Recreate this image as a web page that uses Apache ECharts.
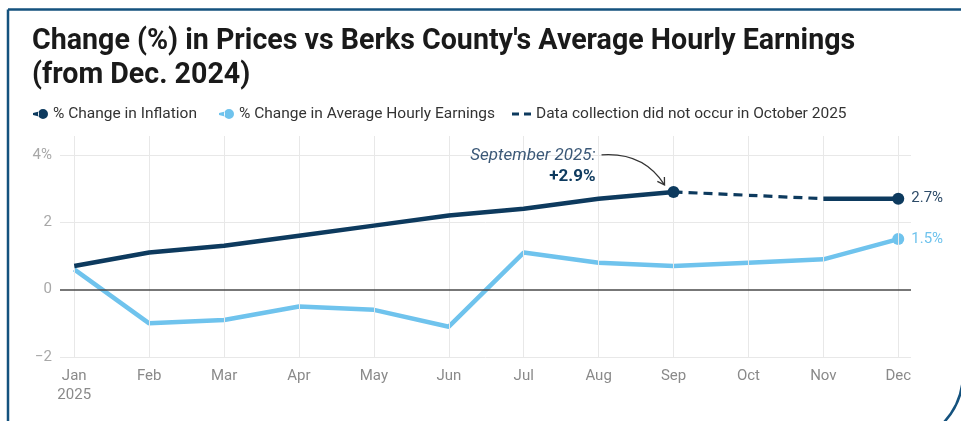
<!DOCTYPE html>
<html>
<head>
<meta charset="utf-8">
<script src="https://cdn.jsdelivr.net/npm/echarts@6/dist/echarts.min.js"></script>
<style>
html,body{margin:0;padding:0;background:#fff;}
#c{width:961px;height:421px;}
</style>
</head>
<body>
<div id="c"></div>
<script>
// ---- data ----
const months = ['Jan','Feb','Mar','Apr','May','Jun','Jul','Aug','Sep','Oct','Nov','Dec'];
const inflation = [0.7, 1.1, 1.3, 1.6, 1.9, 2.2, 2.4, 2.7, 2.9, null, 2.7, 2.7];
const earnings = [0.6, -1.0, -0.9, -0.5, -0.6, -1.1, 1.1, 0.8, 0.7, 0.8, 0.9, 1.5];
const yTicks = [-2, 0, 2, 4];
const gapFrom = 8, gapTo = 10; // Sep -> Nov (no October data)
const seriesNames = ['% Change in Inflation', '% Change in Average Hourly Earnings', 'Data collection did not occur in October 2025'];
const annTitle = 'September 2025:';
const annValue = '+2.9%';

const NAVY = '#0d3a5e';
const LIGHT = '#6fc3ed';
const FONT = 'Roboto, "Noto Sans", sans-serif';

const chart = echarts.init(document.getElementById('c'));

const inflData = inflation.map((v, i) => ({
  value: [i, v],
  symbolSize: (i === gapFrom || i === months.length - 1) ? 12 : 0,
  label: i === months.length - 1 ? {show: true, position: 'right', distance: 7, formatter: v.toFixed(1) + '%', color: '#2d4b68', fontSize: 15, fontFamily: FONT} : {show: false}
}));
const earnData = earnings.map((v, i) => ({
  value: [i, v],
  symbolSize: i === months.length - 1 ? 12 : 0,
  label: i === months.length - 1 ? {show: true, position: 'right', distance: 7, formatter: v.toFixed(1) + '%', color: LIGHT, fontSize: 15, fontFamily: FONT} : {show: false}
}));
const gapData = [[gapFrom, inflation[gapFrom]], [gapTo, inflation[gapTo]]];

const pinIcon = 'path://M0,4 L6,2.6 L6,7.4 L0,6 Z M5,5 A5,5 0 1,0 15,5 A5,5 0 1,0 5,5 Z';
const dashIcon = 'path://M0,0 L7,0 L7,3 L0,3 Z M12,0 L19,0 L19,3 L12,3 Z';

const option = {
  animation: false,
  textStyle: {fontFamily: FONT},
  title: {
    text: "Change (%) in Prices vs Berks County's Average Hourly Earnings\n(from Dec. 2024)",
    left: 32, top: 25, padding: 0,
    textStyle: {fontSize: 28.6, fontWeight: 'bold', color: '#1a1a1a', lineHeight: 34, fontFamily: FONT}
  },
  legend: [
    {
      data: [{name: seriesNames[0], icon: pinIcon}, {name: seriesNames[1], icon: pinIcon}],
      left: 33, top: 106, itemWidth: 15, itemHeight: 10, itemGap: 22, padding: 0,
      textStyle: {fontSize: 15.5, color: '#333', fontFamily: FONT},
      selectedMode: false
    },
    {
      data: [{name: seriesNames[2], icon: dashIcon}],
      left: 512, top: 106, itemWidth: 19, itemHeight: 3, padding: 0,
      textStyle: {fontSize: 15.5, color: '#333', fontFamily: FONT},
      selectedMode: false
    }
  ],
  grid: {left: 60, right: 50, top: 136, bottom: 64},
  xAxis: {
    type: 'value', min: -0.19, max: 11.17,
    axisLine: {show: false}, axisTick: {show: false}, splitLine: {show: false},
    axisLabel: {
      customValues: months.map((m, i) => i),
      formatter: v => (v === 0 ? months[0] + '\n2025' : months[v]),
      color: '#8a8a8a', fontSize: 15, margin: 10, lineHeight: 19, fontFamily: FONT
    }
  },
  yAxis: {
    type: 'value', min: -2, max: 4.56,
    axisLine: {show: false}, axisTick: {show: false}, splitLine: {show: false},
    axisLabel: {
      customValues: yTicks,
      formatter: v => (v === 4 ? '4%' : (v < 0 ? '\u2212' + Math.abs(v) : String(v))),
      color: '#a8a8a8', fontSize: 15, margin: 8, fontFamily: FONT
    }
  },
  series: [
    {
      name: 'grid', type: 'line', data: [], z: 1, silent: true,
      markLine: {
        silent: true, symbol: 'none', label: {show: false}, animation: false,
        data: months.map((m, i) => ({xAxis: i, lineStyle: {color: '#e8e8e8', width: 1, type: 'solid'}}))
          .concat(yTicks.filter(t => t !== 0).map(t => ({yAxis: t, lineStyle: {color: '#e8e8e8', width: 1, type: 'solid'}})))
          .concat([{yAxis: 0, lineStyle: {color: '#4a4a4a', width: 1.5, type: 'solid'}}])
      }
    },
    {
      name: seriesNames[1], type: 'line', data: earnData, z: 3,
      symbol: 'circle', showSymbol: true, color: LIGHT,
      lineStyle: {color: LIGHT, width: 4.5}, itemStyle: {color: LIGHT}
    },
    {
      name: seriesNames[2], type: 'line', data: gapData, z: 4,
      symbol: 'none', color: NAVY,
      lineStyle: {color: NAVY, width: 3.2, type: [9, 6]}
    },
    {
      name: seriesNames[0], type: 'line', data: inflData, z: 5, connectNulls: false,
      symbol: 'circle', showSymbol: true, color: NAVY,
      lineStyle: {color: NAVY, width: 4.5}, itemStyle: {color: NAVY}
    }
  ],
  graphic: [
    {
      id: 'frame', type: 'rect', silent: true, z: 100,
      shape: {x: 8, y: 9.5, width: 955, height: 436, r: [0, 0, 72, 0]},
      style: {fill: 'none', stroke: '#14527e', lineWidth: 2.5}
    }
  ]
};
chart.setOption(option);

// annotation anchored to the September point via the chart's scales
const p = chart.convertToPixel({gridIndex: 0}, [gapFrom, inflation[gapFrom]]);
const s = [p[0] - 72, p[1] - 37], c1 = [p[0] - 30, p[1] - 40], e = [p[0] - 9, p[1] - 7];
const ang = Math.atan2(e[1] - c1[1], e[0] - c1[0]);
const hl = 8;
const h1 = [e[0] - hl * Math.cos(ang - 0.55), e[1] - hl * Math.sin(ang - 0.55)];
const h2 = [e[0] - hl * Math.cos(ang + 0.55), e[1] - hl * Math.sin(ang + 0.55)];
chart.setOption({
  graphic: [
    {
      id: 'annTitle', type: 'text', silent: true, z: 50,
      x: p[0] - 78, y: p[1] - 36,
      style: {text: annTitle, align: 'right', verticalAlign: 'middle', fontSize: 17, fontStyle: 'italic', fill: '#3b5877', fontFamily: FONT}
    },
    {
      id: 'annValue', type: 'text', silent: true, z: 50,
      x: p[0] - 78, y: p[1] - 15,
      style: {text: annValue, align: 'right', verticalAlign: 'middle', fontSize: 17, fontWeight: 'bold', fill: NAVY, fontFamily: FONT}
    },
    {
      id: 'annArrow', type: 'bezierCurve', silent: true, z: 50,
      shape: {x1: s[0], y1: s[1], x2: e[0], y2: e[1], cpx1: c1[0], cpy1: c1[1]},
      style: {stroke: '#333', lineWidth: 1.3, fill: 'none'}
    },
    {
      id: 'annHead', type: 'polyline', silent: true, z: 50,
      shape: {points: [h1, e, h2]},
      style: {stroke: '#333', lineWidth: 1.3, fill: 'none'}
    }
  ]
});
</script>
</body>
</html>
